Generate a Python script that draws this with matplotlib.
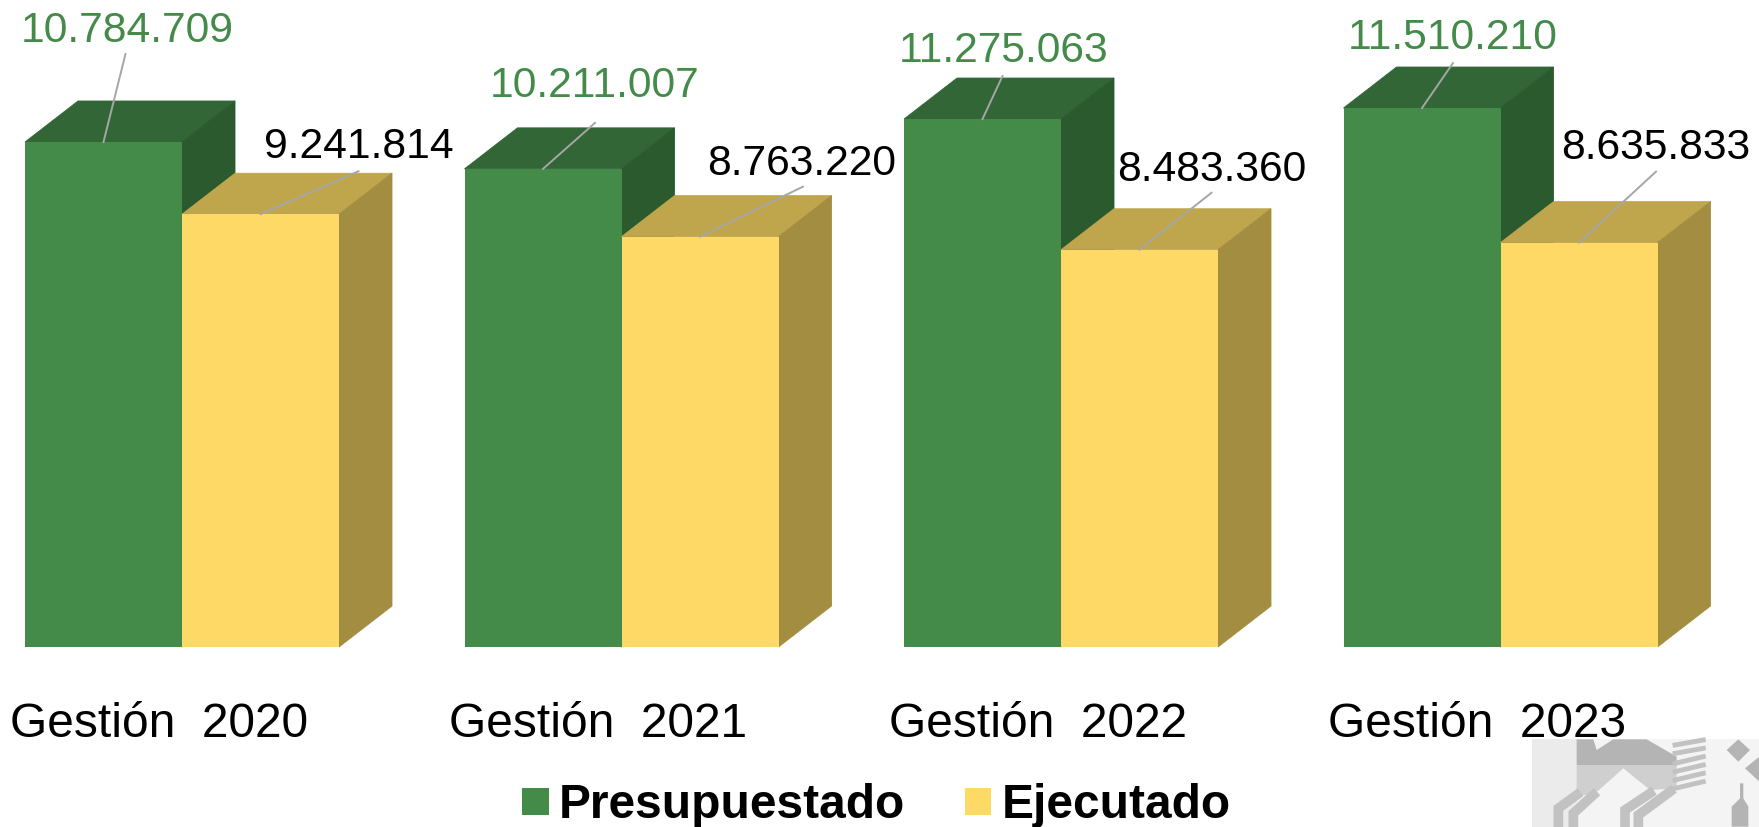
#!/usr/bin/env python3
"""Presupuestado vs Ejecutado per gestion, drawn as fake 3D columns."""

import matplotlib
matplotlib.use('Agg')
import matplotlib.pyplot as plt
from matplotlib.patches import Patch, Polygon, Rectangle

plt.rcParams['font.family'] = ['Liberation Sans', 'DejaVu Sans']

# Data
categories = ["Gestión  2020", "Gestión  2021", "Gestión  2022", "Gestión  2023"]
presupuestado = [10784709, 10211007, 11275063, 11510210]
ejecutado = [9241814, 8763220, 8483360, 8635833]
presupuestado_labels = ["10.784.709", "10.211.007", "11.275.063", "11.510.210"]
ejecutado_labels = ["9.241.814", "8.763.220", "8.483.360", "8.635.833"]

# Layout, all in reference pixels
W, H = 1759, 827
BASE_Y = 647         # pixel row of the zero line
SPLIT_X = 182        # pixel column where the first two bars meet
STEP = 439.5         # pixels between groups
BAR_PX = 157
DEPTH_X, DEPTH_Y = 53, 41
PX_PER_UNIT = 505 / 10784709

# where the value labels sit (centre of text) relative to the front top-centre of the bar
pres_label_off = [(23.5, 115), (52, 87), (21, 73), (31, 75)]
ejec_label_off = [(98, 72), (102, 77), (72, 84), (77, 99)]
# end of each leader line, relative to the same point
pres_leader_end = [(22, 88), (52, 46), (20, 43), (31, 45)]
ejec_leader_end = [(98, 43), (103, 50), (72, 57), (77, 71)]

GREEN, GREEN_TOP, GREEN_SIDE = '#448a49', '#326637', '#2b5a2e'
YELLOW, YELLOW_TOP, YELLOW_SIDE = '#ffd966', '#bfa64d', '#a38d40'
LEADER = '#a6a6a6'

# Watermark in the corner, in coordinates of a 3x crop starting at (1480, 700)
logo_body = [(290, 118), (340, 118), (350, 150), (400, 118), (500, 118), (590, 170), (590, 195), (290, 195)]
logo_band = [(290, 195), (590, 195), (590, 265), (510, 270), (430, 205), (340, 285), (290, 285)]
logo_legs = [[(290, 285), (235, 325), (235, 380)], [(340, 285), (280, 340), (280, 380)],
             [(510, 280), (435, 330), (435, 380)], [(570, 275), (475, 345), (475, 380)]]
logo_stripes = [[(585, 135), (670, 120)], [(585, 160), (670, 145)], [(585, 190), (670, 170)],
                [(585, 215), (670, 195)], [(585, 240), (670, 220)], [(585, 265), (670, 245)]]
logo_diamonds = [[(775, 118), (810, 150), (775, 185), (740, 150)],
                 [(838, 170), (838, 245), (795, 205)]]
logo_post = [(780, 250), (790, 250), (790, 295), (805, 320), (805, 380), (755, 380), (755, 320), (780, 295)]


def crop(pts):
    return [(1480 + x / 3, 700 + y / 3) for x, y in pts]


def draw_logo(fig):
    bg = fig.add_axes([0, 0, 1, 1], zorder=0)
    bg.set_xlim(0, W)
    bg.set_ylim(H, 0)
    bg.axis('off')
    bg.add_patch(Rectangle((1532, 739), 227, 88, fc='#f4f4f4', ec='none'))
    bg.add_patch(Rectangle((1532, 739), 45, 88, fc='#ebebeb', ec='none'))
    bg.add_patch(Polygon(crop(logo_band), fc='#cfcfcf', ec='none'))
    bg.add_patch(Polygon(crop(logo_body), fc='#b4b4b4', ec='none'))
    for leg in logo_legs:
        xs, ys = zip(*crop(leg))
        bg.plot(xs, ys, color='#c2c2c2', lw=7, solid_joinstyle='miter')
    for st in logo_stripes:
        xs, ys = zip(*crop(st))
        bg.plot(xs, ys, color='#c2c2c2', lw=3.5)
    for d in logo_diamonds:
        bg.add_patch(Polygon(crop(d), fc='#b4b4b4', ec='none'))
    bg.add_patch(Polygon(crop(logo_post), fc='#b4b4b4', ec='none'))


def draw_box(ax, x_left, width, value, front, top, side, dx, dy):
    x_right = x_left + width
    ax.add_patch(Polygon([(x_left, value), (x_right, value), (x_right + dx, value + dy), (x_left + dx, value + dy)],
                         fc=top, ec=top, lw=0.6, zorder=3))
    ax.add_patch(Polygon([(x_right, 0), (x_right + dx, dy), (x_right + dx, value + dy), (x_right, value)],
                         fc=side, ec=side, lw=0.6, zorder=3))
    # front face last so it hides the seams of the other two
    ax.bar(x_left, value, width, align='edge', color=front, linewidth=0, zorder=3)


def label_bar(ax, x, value, text, color, label_off, leader_end, ux, uy):
    ax.plot([x, x + leader_end[0] * ux], [value, value + leader_end[1] * uy],
            color=LEADER, lw=1.4, zorder=5)
    ax.text(x + label_off[0] * ux, value + label_off[1] * uy, text, color=color,
            fontsize=30.7, ha='center', va='center_baseline', zorder=6)


def main():
    fig = plt.figure(figsize=(W / 100, H / 100), dpi=100)
    draw_logo(fig)

    ax = fig.add_axes([0, 0, 1, 1], zorder=1)
    ax.patch.set_alpha(0)
    ux = 1 / STEP          # data x per pixel
    uy = 1 / PX_PER_UNIT   # data y per pixel
    ax.set_xlim(-SPLIT_X * ux, (W - SPLIT_X) * ux)
    ax.set_ylim(-(H - BASE_Y) * uy, BASE_Y * uy)
    ax.axis('off')

    bar_w = BAR_PX * ux
    dx, dy = DEPTH_X * ux, DEPTH_Y * uy

    for i, cat in enumerate(categories):
        draw_box(ax, i - bar_w, bar_w, presupuestado[i], GREEN, GREEN_TOP, GREEN_SIDE, dx, dy)
        draw_box(ax, i, bar_w, ejecutado[i], YELLOW, YELLOW_TOP, YELLOW_SIDE, dx, dy)
        label_bar(ax, i - bar_w / 2, presupuestado[i], presupuestado_labels[i], GREEN,
                  pres_label_off[i], pres_leader_end[i], ux, uy)
        label_bar(ax, i + bar_w / 2, ejecutado[i], ejecutado_labels[i], 'black',
                  ejec_label_off[i], ejec_leader_end[i], ux, uy)
        ax.text(i - 23 * ux, -90 * uy, cat, fontsize=34.5, ha='center', va='baseline', color='black')

    handles = [Patch(fc=GREEN, ec='none', label='Presupuestado'),
               Patch(fc=YELLOW, ec='none', label='Ejecutado')]
    ax.legend(handles=handles, loc='center', bbox_to_anchor=(876.5 / W, 1 - 806 / H), ncol=2,
              frameon=False, prop={'size': 34.5, 'weight': 'bold'}, handlelength=0.55,
              handleheight=0.5, handletextpad=0.21, columnspacing=1.25, borderpad=0, borderaxespad=0)

    fig.savefig('out.png', dpi=100)
    plt.close(fig)


if __name__ == "__main__":
    main()
